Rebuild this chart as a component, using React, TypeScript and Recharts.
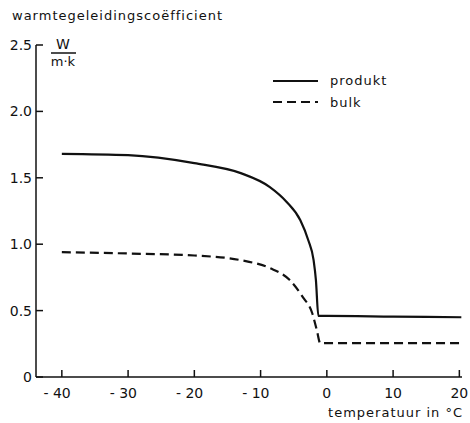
import React from 'react';
import { LineChart, Line, XAxis, YAxis } from 'recharts';

// temperature (°C) and thermal conductivity (W/m·k)
const produktTemp = [-40, -30, -20, -13, -8.6, -6.1, -4, -2.8, -2, -1.65, -1.28, 0, 10, 20.3];
const produktValue = [1.68, 1.67, 1.61, 1.535, 1.43, 1.32, 1.18, 1.03, 0.88, 0.73, 0.46, 0.46, 0.455, 0.45];

const bulkTemp = [-40, -30, -20, -13, -8.6, -5.6, -3.6, -2.2, -1.5, -1.0, 0, 10, 20.3];
const bulkValue = [0.94, 0.93, 0.915, 0.88, 0.82, 0.73, 0.6, 0.48, 0.35, 0.255, 0.255, 0.255, 0.255];

const xTicks = [-40, -30, -20, -10, 0, 10, 20];
const yTicks = [0, 0.5, 1, 1.5, 2, 2.5];

const produktData = produktTemp.map((t, i) => ({ t, v: produktValue[i] }));
const bulkData = bulkTemp.map((t, i) => ({ t, v: bulkValue[i] }));

const INK = '#111';
const FONT = '"DejaVu Sans", sans-serif';

const YTick = (props: any) => {
  const { x, y, payload } = props;
  const v = payload.value;
  return (
    <g>
      <line x1={x} y1={y} x2={x + 7} y2={y} stroke={INK} strokeWidth={1.5} />
      <text x={x - 4} y={y + 5} textAnchor="end" fontSize={14} fontFamily={FONT} fill={INK}>
        {v === 0 ? '0' : v.toFixed(1)}
      </text>
    </g>
  );
};

const XTick = (props: any) => {
  const { x, y, payload } = props;
  const v = payload.value;
  const digits = String(Math.abs(v));
  const label = v < 0 ? '- ' + digits : digits;
  const half = digits.length * 4.45;
  return (
    <g>
      <line x1={x} y1={y} x2={x} y2={y - 7} stroke={INK} strokeWidth={1.5} />
      <text x={x + half} y={y + 21} textAnchor="end" fontSize={14} fontFamily={FONT} fill={INK}>
        {label}
      </text>
    </g>
  );
};

export default function App() {
  return (
    <div style={{ position: 'absolute', left: 0, top: 0, width: 470, height: 423, background: '#fff' }}>
      <LineChart width={470} height={423} margin={{ top: 45, right: 8, bottom: 45, left: 35 }}>
        <XAxis
          type="number"
          dataKey="t"
          domain={[-43.9, 20.4]}
          ticks={xTicks}
          allowDataOverflow
          height={1}
          tickSize={0}
          tickMargin={0}
          tickLine={false}
          axisLine={{ stroke: INK, strokeWidth: 1.5 }}
          tick={XTick}
          interval={0}
        />
        <YAxis
          type="number"
          dataKey="v"
          domain={[0, 2.5]}
          ticks={yTicks}
          width={1}
          tickSize={0}
          tickMargin={0}
          tickLine={false}
          axisLine={{ stroke: INK, strokeWidth: 1.5 }}
          tick={YTick}
          interval={0}
        />
        <Line
          data={produktData}
          dataKey="v"
          name="produkt"
          type="monotone"
          stroke={INK}
          strokeWidth={2.2}
          dot={false}
          isAnimationActive={false}
        />
        <Line
          data={bulkData}
          dataKey="v"
          name="bulk"
          type="monotone"
          stroke={INK}
          strokeWidth={2.2}
          strokeDasharray="9 5"
          dot={false}
          isAnimationActive={false}
        />
      </LineChart>
      <svg
        width={470}
        height={423}
        style={{ position: 'absolute', left: 0, top: 0, pointerEvents: 'none' }}
        fontFamily={FONT}
        fill={INK}
      >
        <text x={12} y={20} fontSize={13} letterSpacing={1}>warmtegeleidingscoëfficient</text>
        <text x={63} y={48.5} fontSize={14} textAnchor="middle">W</text>
        <line x1={51} y1={53} x2={76} y2={53} stroke={INK} strokeWidth={1.5} />
        <text x={63} y={66} fontSize={13} textAnchor="middle">m·k</text>

        <line x1={273} y1={81} x2={318} y2={81} stroke={INK} strokeWidth={2.2} />
        <text x={330} y={85} fontSize={13} letterSpacing={1}>produkt</text>
        <line x1={273} y1={102} x2={318} y2={102} stroke={INK} strokeWidth={2.2} strokeDasharray="9 5" />
        <text x={330} y={106.5} fontSize={13} letterSpacing={1}>bulk</text>

        <text x={463} y={417} fontSize={13} letterSpacing={1} textAnchor="end">temperatuur in °C</text>
      </svg>
    </div>
  );
}
